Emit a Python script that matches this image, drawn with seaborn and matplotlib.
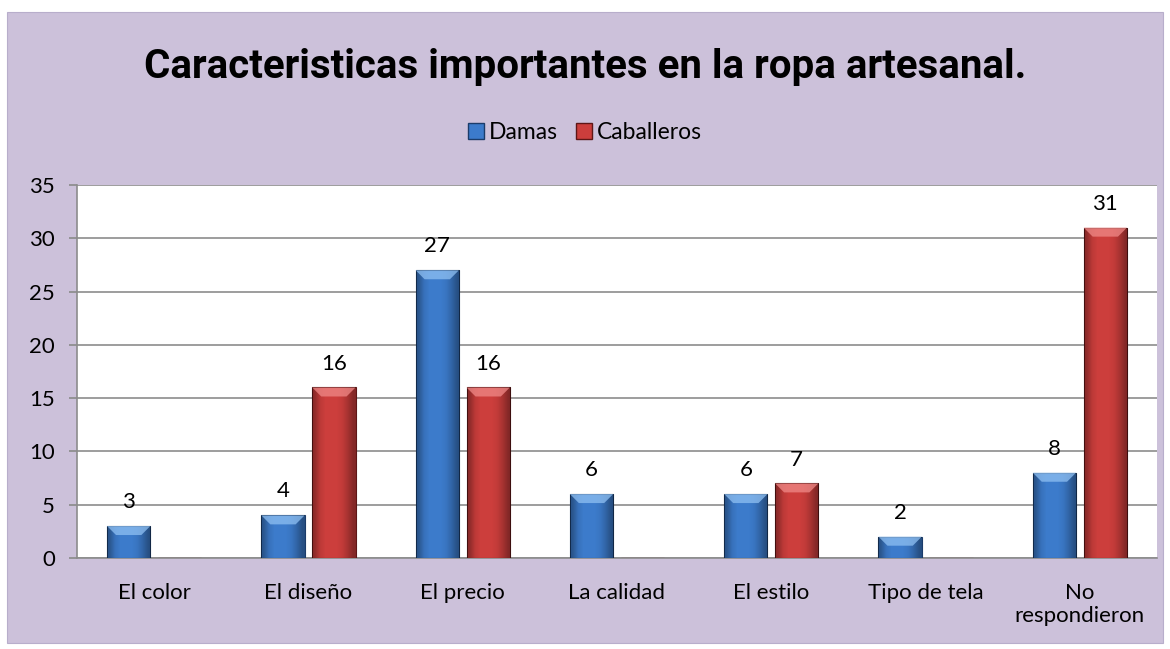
import matplotlib
matplotlib.use("Agg")
import matplotlib.pyplot as plt
from matplotlib.colors import ListedColormap
from matplotlib.patches import Polygon, Rectangle
import numpy as np
import pandas as pd
import seaborn as sns

# Data
categorias = ["El color", "El diseño", "El precio", "La calidad",
              "El estilo", "Tipo de tela", "No\nrespondieron"]
damas = [3, 4, 27, 6, 6, 2, 8]
caballeros = [0, 16, 16, 0, 7, 0, 31]
series = ["Damas", "Caballeros"]
colores = {"Damas": "#3C7BCB", "Caballeros": "#CC3E3C"}
bordes = {"Damas": "#1B3C6A", "Caballeros": "#5E1616"}
brillos = {"Damas": "#8FC0F2", "Caballeros": "#F08A88"}

df = pd.DataFrame({
    "categoria": categorias * 2,
    "valor": damas + caballeros,
    "serie": ["Damas"] * len(damas) + ["Caballeros"] * len(caballeros),
})

sns.set_theme(style="white")
plt.rcParams["font.family"] = ["Lato", "DejaVu Sans"]

fig = plt.figure(figsize=(11.7, 6.49), dpi=100)
fig.patch.set_facecolor("white")
fig.add_artist(Rectangle((7 / 1170, 6 / 649), 1156 / 1170, 631 / 649,
                         transform=fig.transFigure, facecolor="#CCC1DA",
                         edgecolor="#B8AECB", linewidth=0.8, zorder=0))

ax = fig.add_axes([77 / 1170, 91 / 649, 1080 / 1170, 373 / 649])
ax.set_facecolor("white")

sns.barplot(data=df, x="categoria", y="valor", hue="serie",
            order=categorias, hue_order=series, palette=colores,
            saturation=1, width=0.66, gap=0.15, ax=ax, legend=False, zorder=3)

ax.set_xlim(-0.5, len(categorias) - 0.5)
ax.set_ylim(0, 35)

# darker edges shading (transparent -> black)
sombra = ListedColormap(np.column_stack([np.zeros((256, 3)),
                                         np.linspace(0, 1, 256)]))
px_y = 35 / 373          # data units per pixel vertically
px_x = 7 / 1080
for cont, nombre in zip(ax.containers, series):
    for p in cont.patches:
        p.set_edgecolor(bordes[nombre])
        p.set_linewidth(0.8)
        h = p.get_height()
        if h <= 0:
            continue
        x0, w = p.get_x(), p.get_width()
        grad = np.array([[0.3, 0.08, 0.0, 0.0, 0.0, 0.05, 0.18, 0.35]])
        im = ax.imshow(grad, cmap=sombra, vmin=0, vmax=1,
                       extent=[x0, x0 + w, 0, h], aspect="auto", zorder=4,
                       interpolation="bilinear")
        im.set_clip_path(p)
        dy = min(9 * px_y, h / 2)
        dx = 9 * px_x
        ax.add_patch(Polygon([(x0, h), (x0 + w, h), (x0 + w - dx, h - dy),
                              (x0 + dx, h - dy)], closed=True,
                             facecolor=brillos[nombre], alpha=0.75,
                             edgecolor="none", zorder=5))
    vals = damas if nombre == "Damas" else caballeros
    ax.bar_label(cont, labels=[str(v) if v > 0 else "" for v in vals],
                 padding=10, fontsize=16, color="black")

ax.set_yticks(range(0, 36, 5))
ax.yaxis.grid(True, color="#8C8C8C", linewidth=1.2, zorder=0)
ax.set_axisbelow(True)
ax.set_xlabel("")
ax.set_ylabel("")
ax.tick_params(axis="y", left=True, length=6, color="#8C8C8C",
               labelsize=16, pad=10)
ax.tick_params(axis="x", bottom=False, labelsize=16, pad=12)
for lab in ax.get_yticklabels() + ax.get_xticklabels():
    lab.set_color("black")
for s in ["top", "right"]:
    ax.spines[s].set_visible(False)
for s in ["left", "bottom"]:
    ax.spines[s].set_color("#8C8C8C")
    ax.spines[s].set_linewidth(1.2)

fig.text(0.5, 1 - 67 / 649, "Caracteristicas importantes en la ropa artesanal.",
         ha="center", va="center", fontsize=29, fontweight="bold",
         family=["Roboto", "DejaVu Sans"], color="black")

handles = [Rectangle((0, 0), 1, 1, facecolor=colores[s], edgecolor=bordes[s])
           for s in series]
fig.legend(handles, series, loc="center", bbox_to_anchor=(0.5, 1 - 133 / 649),
           ncol=2, frameon=False, fontsize=16.5, handlelength=0.7,
           handleheight=0.7, handletextpad=0.2, columnspacing=0.8,
           labelcolor="black")

fig.savefig("out.png", dpi=100, facecolor=fig.get_facecolor())
